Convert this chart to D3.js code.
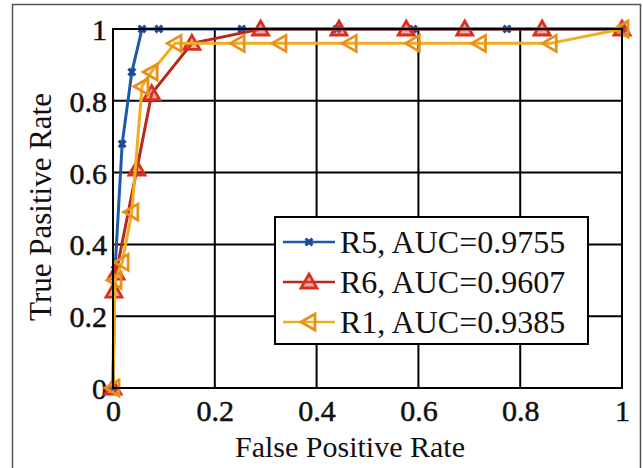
<!doctype html>
<html>
<head>
    <title>ROC curves</title>
    <script src="https://d3js.org/d3.v7.min.js"></script>
    <style>
        body { margin: 0; background: #fff; }
        text { font-family: "Liberation Serif", "Times New Roman", serif; }
    </style>
</head>
<body>
<svg width="643" height="468"></svg>
<script>
    // values
    var seriesNames = ["R5, AUC=0.9755", "R6, AUC=0.9607", "R1, AUC=0.9385"];

    var r5Fpr = [0, 0.004, 0.018, 0.037, 0.057, 0.09, 0.253, 0.44, 0.59, 0.774, 1];
    var r5Tpr = [0, 0.33, 0.68, 0.88, 1, 1, 1, 1, 1, 1, 1];

    var r6Fpr = [0, 0.002, 0.006, 0.047, 0.076, 0.155, 0.29, 0.444, 0.576, 0.691, 0.843, 1];
    var r6Tpr = [0, 0.27, 0.32, 0.61, 0.82, 0.96, 1, 1, 1, 1, 1, 1];

    var r1Fpr = [0, 0.004, 0.018, 0.037, 0.057, 0.075, 0.122, 0.246, 0.328, 0.466, 0.59, 0.72, 0.859, 1];
    var r1Tpr = [0, 0.3, 0.35, 0.49, 0.84, 0.88, 0.96, 0.96, 0.96, 0.96, 0.96, 0.96, 0.96, 1];

    var tickValues = [0, 0.2, 0.4, 0.6, 0.8, 1];
    var tickLabels = ["0", "0.2", "0.4", "0.6", "0.8", "1"];

    var svg = d3.select("svg");

    // outer frame of the figure (bottom edge is outside the picture)
    svg.append("path")
        .attr("d", "M12.5,470V4.5H640.5V470")
        .attr("fill", "none")
        .attr("stroke", "#555")
        .attr("stroke-width", 1.5);

    var pLeft = 113, pRight = 622, pTop = 29, pBottom = 388;
    var x = d3.scaleLinear().domain([0, 1]).range([pLeft, pRight]);
    var y = d3.scaleLinear().domain([0, 1]).range([pBottom, pTop]);

    // grid
    svg.append("g").selectAll("line")
        .data(tickValues).enter().append("line")
        .attr("x1", function(d) { return x(d); })
        .attr("x2", function(d) { return x(d); })
        .attr("y1", pTop).attr("y2", pBottom)
        .attr("stroke", "#000").attr("stroke-width", 2);
    svg.append("g").selectAll("line")
        .data(tickValues).enter().append("line")
        .attr("y1", function(d) { return y(d); })
        .attr("y2", function(d) { return y(d); })
        .attr("x1", pLeft).attr("x2", pRight)
        .attr("stroke", "#000").attr("stroke-width", 2);

    // axes (labels only, grid already draws the lines)
    var xAxis = svg.append("g")
        .attr("transform", "translate(0," + pBottom + ")")
        .call(d3.axisBottom(x).tickValues(tickValues)
            .tickFormat(function(d, i) { return tickLabels[i]; })
            .tickSize(0).tickPadding(12));
    var yAxis = svg.append("g")
        .attr("transform", "translate(" + pLeft + ",0)")
        .call(d3.axisLeft(y).tickValues(tickValues)
            .tickFormat(function(d, i) { return tickLabels[i]; })
            .tickSize(0).tickPadding(6));
    [xAxis, yAxis].forEach(function(a) {
        a.select(".domain").remove();
        a.selectAll("text")
            .attr("fill", "#111")
            .attr("stroke", "#111").attr("stroke-width", 0.5)
            .style("font-size", "30px")
            .style("font-family", "'Liberation Serif', serif");
    });
    yAxis.selectAll("text").attr("dy", "0.35em");

    // axis titles
    svg.append("text")
        .attr("x", 350).attr("y", 457)
        .attr("text-anchor", "middle")
        .style("font-size", "30px")
        .attr("fill", "#111")
        .text("False Positive Rate");
    svg.append("text")
        .attr("transform", "translate(51,207) rotate(-90)")
        .attr("text-anchor", "middle")
        .style("font-size", "31px")
        .attr("fill", "#111")
        .text("True Pasitive Rate");

    var series = [
        { name: seriesNames[0], fx: r5Fpr, ty: r5Tpr, line: "#1f5aa6", mark: "#1a4a95", sym: "cross" },
        { name: seriesNames[1], fx: r6Fpr, ty: r6Tpr, line: "#b8281c", mark: "#d8301e", sym: "up" },
        { name: seriesNames[2], fx: r1Fpr, ty: r1Tpr, line: "#efad22", mark: "#e8901a", sym: "left" }
    ];

    var line = d3.line()
        .x(function(d) { return x(d[0]); })
        .y(function(d) { return y(d[1]); });

    function drawMarker(g, s, cx, cy) {
        if (s.sym === "cross") {
            g.append("path")
                .attr("d", d3.symbol().type(d3.symbolCross).size(50)())
                .attr("transform", "translate(" + cx + "," + cy + ") rotate(45)")
                .attr("fill", s.mark);
        } else if (s.sym === "up") {
            g.append("path")
                .attr("d", "M0,-8L8,6L-8,6Z")
                .attr("transform", "translate(" + cx + "," + cy + ")")
                .attr("fill", "#e84a3a").attr("fill-opacity", 0.45)
                .attr("stroke", s.mark).attr("stroke-width", 2.8);
        } else {
            g.append("path")
                .attr("d", "M-8,0L6,-8L6,8Z")
                .attr("transform", "translate(" + cx + "," + cy + ")")
                .attr("fill", "none")
                .attr("stroke", s.mark).attr("stroke-width", 2.8);
        }
    }

    // curves
    series.forEach(function(s) {
        var pts = s.fx.map(function(v, i) { return [v, s.ty[i]]; });
        var g = svg.append("g");
        g.append("path")
            .datum(pts)
            .attr("d", line)
            .attr("fill", "none")
            .attr("stroke", s.line)
            .attr("stroke-width", 3);
        pts.forEach(function(p) { drawMarker(g, s, x(p[0]), y(p[1])); });
    });

    // plot box
    svg.append("rect")
        .attr("x", pLeft).attr("y", pTop)
        .attr("width", pRight - pLeft).attr("height", pBottom - pTop)
        .attr("fill", "none").attr("stroke", "#000").attr("stroke-width", 2);

    // legend
    var lg = svg.append("g");
    lg.append("rect")
        .attr("x", 275).attr("y", 217)
        .attr("width", 313).attr("height", 127)
        .attr("fill", "#fff").attr("stroke", "#000").attr("stroke-width", 2);
    series.forEach(function(s, i) {
        var ly = 242 + i * 40;
        lg.append("line")
            .attr("x1", 283).attr("x2", 335)
            .attr("y1", ly).attr("y2", ly)
            .attr("stroke", s.line).attr("stroke-width", 2.5);
        drawMarker(lg, s, 309, ly);
        lg.append("text")
            .attr("x", 340).attr("y", ly)
            .attr("dy", "0.35em")
            .style("font-size", "32px")
            .attr("fill", "#111")
            .text(s.name);
    });
</script>
</body>
</html>
